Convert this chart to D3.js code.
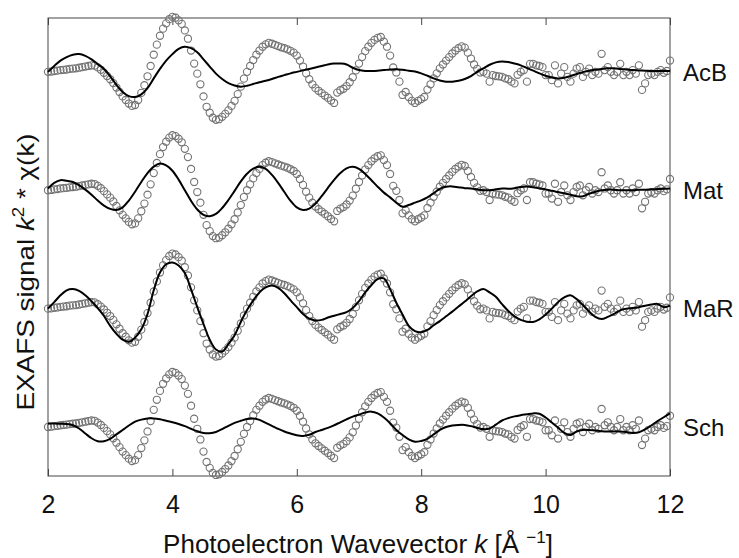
<!DOCTYPE html>
<html><head><meta charset="utf-8">
<script src="https://cdn.jsdelivr.net/npm/d3@7"></script>
<style>body{margin:0;background:#fff} text{font-family:"Liberation Sans",Arial,Helvetica,sans-serif;fill:#111}</style>
</head><body><svg id="c" width="739" height="558"></svg>
<script>
const samples = ["AcB", "Mat", "MaR", "Sch"];
const offsets = [12, 8, 4, 0];
const xTicks = [2, 4, 6, 8, 10, 12];

// measured data (same spectrum shown in each panel)
const kObs = [
2.00,2.05,2.10,2.15,2.20,2.25,2.30,2.35,2.40,2.45,2.50,2.55,2.60,2.65,2.70,2.75,2.80,2.85,2.90,2.95,
3.00,3.05,3.10,3.15,3.20,3.25,3.30,3.35,3.40,3.45,3.50,3.55,3.60,3.65,3.70,3.75,3.80,3.85,3.90,3.95,
4.00,4.05,4.10,4.15,4.20,4.25,4.30,4.35,4.40,4.45,4.50,4.55,4.60,4.65,4.70,4.75,4.80,4.85,4.90,4.95,
5.00,5.05,5.10,5.15,5.20,5.25,5.30,5.35,5.40,5.45,5.50,5.55,5.60,5.65,5.70,5.75,5.80,5.85,5.90,5.95,
6.00,6.05,6.10,6.15,6.20,6.25,6.30,6.35,6.40,6.45,6.50,6.55,6.60,6.65,6.70,6.75,6.80,6.85,6.90,6.95,
7.00,7.05,7.10,7.15,7.20,7.25,7.30,7.35,7.40,7.45,7.50,7.55,7.60,7.65,7.70,7.75,7.80,7.85,7.90,7.95,
8.00,8.05,8.10,8.15,8.20,8.25,8.30,8.35,8.40,8.45,8.50,8.55,8.60,8.65,8.70,8.75,8.80,8.85,8.90,8.95,
9.00,9.05,9.10,9.15,9.20,9.25,9.30,9.35,9.40,9.45,9.50,9.55,9.60,9.65,9.70,9.75,9.80,9.85,9.90,9.95,
10.00,10.05,10.10,10.15,10.20,10.25,10.30,10.35,10.40,10.45,10.50,10.55,10.60,10.65,10.70,10.75,10.80,10.85,10.90,10.95,
11.00,11.05,11.10,11.15,11.20,11.25,11.30,11.35,11.40,11.45,11.50,11.55,11.60,11.65,11.70,11.75,11.80,11.85,11.90,11.95,
12.00];
const chiObs = [
0.00,0.01,0.03,0.04,0.06,0.07,0.08,0.10,0.11,0.12,0.14,0.16,0.18,0.20,0.22,0.21,0.15,0.07,-0.03,-0.14,
-0.25,-0.38,-0.53,-0.68,-0.83,-0.95,-1.07,-1.15,-1.12,-0.95,-0.71,-0.45,-0.15,0.20,0.58,0.92,1.22,1.46,1.64,1.78,
1.86,1.83,1.74,1.62,1.40,1.12,0.72,0.28,-0.06,-0.42,-0.83,-1.18,-1.38,-1.55,-1.62,-1.60,-1.52,-1.42,-1.30,-1.15,
-0.98,-0.75,-0.50,-0.23,0.00,0.20,0.40,0.58,0.72,0.85,0.93,0.98,0.95,0.91,0.87,0.83,0.80,0.76,0.71,0.65,
0.55,0.38,0.18,-0.05,-0.25,-0.42,-0.55,-0.64,-0.72,-0.80,-0.88,-0.97,-1.05,-0.70,-0.62,-0.57,-0.48,-0.35,-0.18,0.05,
0.28,0.50,0.70,0.85,0.98,1.08,1.15,1.18,1.02,0.85,0.55,0.15,-0.02,-0.33,-0.78,-0.68,-0.85,-0.98,-1.05,-0.98,
-0.92,-0.85,-0.60,-0.42,-0.22,-0.05,0.12,0.25,0.38,0.50,0.62,0.72,0.80,0.86,0.82,0.65,0.45,0.25,0.10,-0.02,
0.00,-0.06,-0.33,-0.11,-0.14,-0.15,-0.17,-0.22,-0.25,-0.33,-0.39,-0.10,0.00,0.06,-0.33,0.27,0.27,0.22,0.20,0.16,
-0.11,-0.11,-0.28,0.22,-0.39,-0.06,0.16,-0.17,-0.33,-0.06,0.11,0.16,-0.17,0.00,0.11,-0.11,0.00,-0.06,0.61,0.06,
0.16,0.00,-0.11,0.00,0.27,-0.11,0.00,-0.11,0.06,-0.06,0.22,-0.61,-0.39,-0.11,-0.06,-0.11,0.00,0.06,-0.03,0.03,
0.38];

// fitted curves
const kFit = [
2.0,2.1,2.2,2.3,2.4,2.5,2.6,2.7,2.8,2.9,3.0,3.1,3.2,3.3,3.4,3.5,3.6,3.7,3.8,3.9,
4.0,4.1,4.2,4.3,4.4,4.5,4.6,4.7,4.8,4.9,5.0,5.1,5.2,5.3,5.4,5.5,5.6,5.7,5.8,5.9,
6.0,6.1,6.2,6.3,6.4,6.5,6.6,6.7,6.8,6.9,7.0,7.1,7.2,7.3,7.4,7.5,7.6,7.7,7.8,7.9,
8.0,8.1,8.2,8.3,8.4,8.5,8.6,8.7,8.8,8.9,9.0,9.1,9.2,9.3,9.4,9.5,9.6,9.7,9.8,9.9,
10.0,10.1,10.2,10.3,10.4,10.5,10.6,10.7,10.8,10.9,11.0,11.1,11.2,11.3,11.4,11.5,11.6,11.7,11.8,11.9,
12.0];
const fitAcB = [
0.00,0.20,0.38,0.50,0.58,0.60,0.54,0.42,0.26,0.10,-0.15,-0.44,-0.68,-0.82,-0.85,-0.76,-0.55,-0.22,0.10,0.38,
0.60,0.78,0.85,0.80,0.66,0.42,0.18,-0.06,-0.24,-0.38,-0.46,-0.50,-0.47,-0.41,-0.35,-0.30,-0.24,-0.17,-0.11,-0.05,
0.00,0.05,0.10,0.15,0.20,0.25,0.28,0.28,0.25,0.14,0.06,0.03,0.03,0.04,0.06,0.08,0.09,0.07,0.04,0.01,
-0.05,-0.13,-0.22,-0.29,-0.33,-0.33,-0.30,-0.24,-0.14,0.00,0.12,0.24,0.32,0.35,0.33,0.28,0.22,0.13,0.04,-0.05,
-0.13,-0.19,-0.22,-0.20,-0.14,-0.07,-0.01,0.04,0.07,0.10,0.12,0.12,0.10,0.08,0.06,0.05,0.04,0.03,0.03,0.03,
0.03];
const fitMat = [
0.06,0.25,0.34,0.32,0.28,0.17,0.02,-0.15,-0.35,-0.52,-0.63,-0.67,-0.58,-0.35,-0.05,0.28,0.58,0.80,0.90,0.84,
0.66,0.36,0.00,-0.36,-0.65,-0.83,-0.88,-0.80,-0.60,-0.33,-0.02,0.30,0.56,0.73,0.79,0.72,0.52,0.25,-0.06,-0.36,
-0.58,-0.67,-0.62,-0.45,-0.20,0.08,0.35,0.58,0.74,0.79,0.72,0.55,0.34,0.12,-0.08,-0.24,-0.42,-0.56,-0.50,-0.42,
-0.34,-0.24,-0.10,0.05,0.12,0.13,0.10,0.07,0.06,0.03,0.00,0.00,0.03,0.06,0.05,0.07,0.11,0.13,0.10,0.06,
0.03,-0.02,-0.06,-0.10,-0.15,-0.20,-0.20,-0.12,-0.05,0.00,0.02,0.02,0.00,0.00,0.00,0.02,0.02,0.03,0.04,0.05,
0.06];
const fitMaR = [
0.00,0.22,0.45,0.62,0.66,0.60,0.45,0.25,0.02,-0.25,-0.58,-0.85,-1.05,-1.12,-0.98,-0.70,-0.18,0.62,1.22,1.50,
1.56,1.46,1.20,0.65,0.05,-0.52,-1.05,-1.38,-1.45,-1.20,-0.90,-0.45,-0.05,0.28,0.55,0.72,0.78,0.70,0.52,0.28,
0.05,-0.18,-0.34,-0.40,-0.38,-0.30,-0.24,-0.18,-0.12,0.02,0.25,0.55,0.80,1.00,1.02,0.66,0.20,-0.20,-0.58,-0.76,
-0.80,-0.72,-0.56,-0.42,-0.26,-0.10,0.07,0.24,0.42,0.58,0.66,0.55,0.40,0.15,-0.08,-0.26,-0.38,-0.44,-0.45,-0.36,
-0.20,0.00,0.22,0.38,0.45,0.32,0.12,-0.10,-0.28,-0.35,-0.28,-0.18,-0.06,0.00,0.02,0.05,0.10,0.14,0.16,0.05,
0.10];
const fitSch = [
0.12,0.12,0.11,0.10,0.06,-0.05,-0.22,-0.38,-0.48,-0.48,-0.40,-0.25,-0.10,0.05,0.18,0.25,0.29,0.29,0.26,0.21,
0.16,0.10,0.03,-0.06,-0.14,-0.20,-0.21,-0.17,-0.07,0.04,0.14,0.21,0.27,0.29,0.24,0.14,0.04,-0.06,-0.15,-0.22,
-0.28,-0.30,-0.26,-0.17,-0.10,-0.03,0.06,0.16,0.26,0.35,0.42,0.49,0.52,0.46,0.32,0.13,-0.10,-0.27,-0.42,-0.50,
-0.47,-0.40,-0.25,-0.10,0.00,0.05,0.07,0.07,0.03,-0.03,-0.07,-0.05,0.08,0.22,0.30,0.36,0.40,0.43,0.46,0.45,
0.32,0.15,-0.02,-0.20,-0.27,-0.15,-0.10,-0.10,-0.12,-0.14,-0.15,-0.15,-0.15,-0.17,-0.20,-0.18,-0.08,0.05,0.20,0.33,
0.46];
const fits = [fitAcB, fitMat, fitMaR, fitSch];

const svg = d3.select("#c");
const L = 48, R = 670, T = 18, B = 476;
const x = d3.scaleLinear().domain([2, 12]).range([L, R]);
const y = d3.scaleLinear().domain([-1.655, 13.82]).range([B, T]);

// frame
svg.append("rect").attr("x", L).attr("y", T).attr("width", R - L).attr("height", B - T)
  .attr("fill", "none").attr("stroke", "#444").attr("stroke-width", 1);

const xb = svg.append("g").attr("transform", `translate(0,${B})`)
  .call(d3.axisBottom(x).tickValues(xTicks).tickFormat(d3.format("d")).tickSizeInner(-7).tickSizeOuter(0).tickPadding(19));
xb.select(".domain").remove();
xb.selectAll("line").attr("stroke", "#444");
xb.selectAll("text").style("font-size", "25px").attr("fill", "#111");

const xt = svg.append("g").attr("transform", `translate(0,${T})`)
  .call(d3.axisTop(x).tickValues(xTicks).tickFormat("").tickSizeInner(-7).tickSizeOuter(0));
xt.select(".domain").remove();
xt.selectAll("line").attr("stroke", "#444");

samples.forEach((name, i) => {
  const off = offsets[i];
  const g = svg.append("g");
  g.selectAll("circle").data(kObs.map((k, j) => [k, chiObs[j]])).join("circle")
    .attr("cx", d => x(d[0])).attr("cy", d => y(d[1] + off)).attr("r", 3.6)
    .attr("fill", "none").attr("stroke", "#737373").attr("stroke-width", 1.1);
  const line = d3.line().x(d => x(d[0])).y(d => y(d[1] + off)).curve(d3.curveCatmullRom.alpha(0.5));
  g.append("path").attr("d", line(kFit.map((k, j) => [k, fits[i][j]])))
    .attr("fill", "none").attr("stroke", "#000").attr("stroke-width", 2);
  svg.append("text").attr("x", 683).attr("y", y(off)).attr("dy", "0.36em")
    .style("font-size", "24px").text(name);
});

// axis titles
const xtTitle = svg.append("text").attr("x", 358).attr("y", 553).attr("text-anchor", "middle").style("font-size", "26px");
xtTitle.append("tspan").text("Photoelectron Wavevector ");
xtTitle.append("tspan").style("font-style", "italic").text("k");
xtTitle.append("tspan").text(" [Å ");
xtTitle.append("tspan").attr("dy", -10).style("font-size", "17px").text("−1");
xtTitle.append("tspan").attr("dy", 10).text("]");

const yt = svg.append("text").attr("transform", "translate(34,272) rotate(-90) scale(1.16,1)")
  .attr("text-anchor", "middle").style("font-size", "24px");
yt.append("tspan").text("EXAFS signal ");
yt.append("tspan").style("font-style", "italic").text("k");
yt.append("tspan").attr("dy", -10).style("font-size", "16px").text("2");
yt.append("tspan").attr("dy", 10).text(" * χ(k)");
</script></body></html>
